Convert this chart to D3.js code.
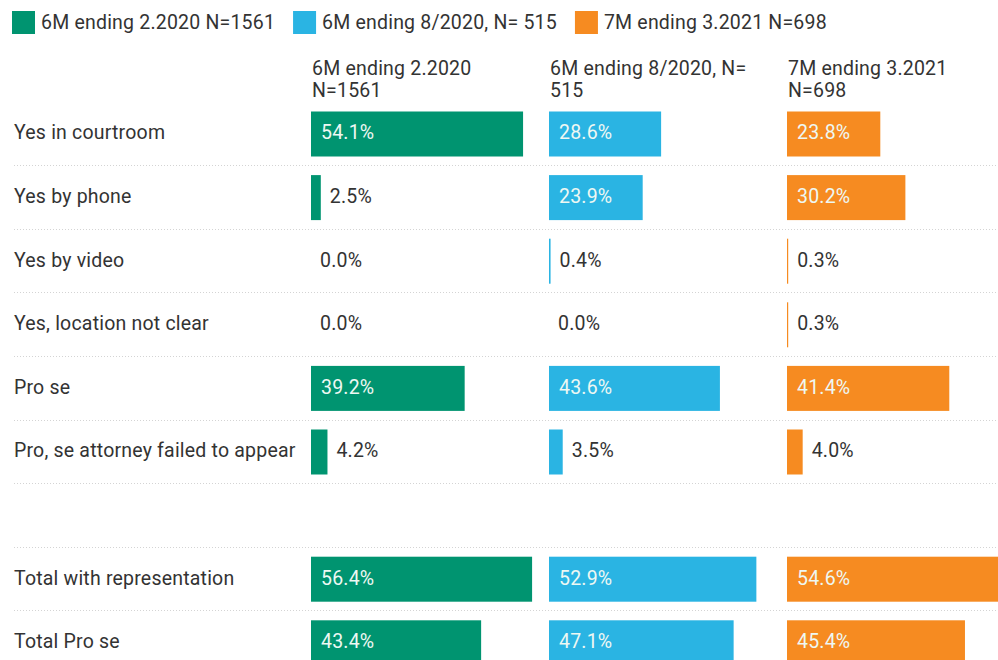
<!DOCTYPE html>
<html>
<head>
<meta charset="utf-8">
<script src="https://cdn.jsdelivr.net/npm/d3@7"></script>
<style>
  body { margin: 0; background: #fff; }
  svg { font-family: Roboto, "Noto Sans", sans-serif; }
  svg text { font-size: 19.5px; letter-spacing: 0.2px; }
</style>
</head>
<body>
<div id="chart"></div>
<script>
var rows = ["Yes in courtroom", "Yes by phone", "Yes by video", "Yes, location not clear",
            "Pro se", "Pro, se attorney failed to appear", "",
            "Total with representation", "Total Pro se"];
var seriesNames = ["6M ending 2.2020 N=1561", "6M ending 8/2020, N= 515", "7M ending 3.2021 N=698"];
var headerLines = [["6M ending 2.2020", "N=1561"], ["6M ending 8/2020, N=", "515"], ["7M ending 3.2021", "N=698"]];
var colors = ["#009470", "#2ab4e3", "#f68b21"];
var feb2020 = [54.1, 2.5, 0.0, 0.0, 39.2, 4.2, null, 56.4, 43.4];
var aug2020 = [28.6, 23.9, 0.4, 0.0, 43.6, 3.5, null, 52.9, 47.1];
var mar2021 = [23.8, 30.2, 0.3, 0.3, 41.4, 4.0, null, 54.6, 45.4];
var values = [feb2020, aug2020, mar2021];

var width = 998, height = 660;

var svg = d3.select("#chart")
    .append("svg")
      .attr("width", width)
      .attr("height", height);

// legend
var legend = svg.append("g").attr("transform", "translate(12,11)");
var lx = 0;
seriesNames.forEach(function(name, i) {
    var item = legend.append("g").attr("transform", "translate(" + lx + ",0)");
    item.append("rect")
        .attr("width", 23).attr("height", 23)
        .style("fill", colors[i]);
    var t = item.append("text")
        .attr("x", 29).attr("y", 18)
        .style("fill", "#333")
        .text(name);
    lx += 29 + t.node().getComputedTextLength() + 18;
});

var col = d3.scaleBand()
    .domain(d3.range(3))
    .range([311, 311 + 3 * 238]);

var y = d3.scaleBand()
    .domain(d3.range(rows.length))
    .range([101.5, 101.5 + rows.length * 63.6]);

var x = d3.scaleLinear()
    .domain([0, 100])
    .range([0, 392]);

// column headers
headerLines.forEach(function(lines, i) {
    svg.append("text")
        .attr("x", col(i) + 1)
        .attr("y", 75)
        .style("fill", "#333")
        .selectAll("tspan")
        .data(lines).enter()
        .append("tspan")
          .attr("x", col(i) + 1)
          .attr("dy", (d, j) => j == 0 ? 0 : 22)
          .text(d => d);
});

// separators
svg.selectAll(".sep")
    .data(d3.range(rows.length - 1))
    .enter().append("line")
      .attr("class", "sep")
      .attr("x1", 14).attr("x2", width)
      .attr("y1", d => Math.round(y(d) + y.step()) + 0.5)
      .attr("y2", d => Math.round(y(d) + y.step()) + 0.5)
      .style("stroke", "#d4d4d4")
      .style("stroke-dasharray", "1,2");

// row labels
svg.selectAll(".rowlabel")
    .data(rows)
    .enter().append("text")
      .attr("x", 14)
      .attr("y", (d, i) => y(i) + 32)
      .attr("dy", "0.3em")
      .style("fill", "#333")
      .text(d => d);

// bars
values.forEach(function(vals, s) {
    var g = svg.append("g");
    var cells = vals.map((v, i) => ({v: v, i: i})).filter(d => d.v !== null);

    g.selectAll("rect")
        .data(cells.filter(d => d.v > 0))
        .enter().append("rect")
          .attr("x", col(s))
          .attr("y", d => y(d.i) + 10)
          .attr("width", d => Math.max(1.2, x(d.v)))
          .attr("height", 45)
          .style("fill", colors[s]);

    g.selectAll("text")
        .data(cells)
        .enter().append("text")
          .attr("y", d => y(d.i) + 32)
          .attr("dy", "0.3em")
          .text(d => d.v.toFixed(1) + "%")
          .each(function(d) {
              var tw = this.getComputedTextLength();
              var inside = tw + 20 < x(d.v);
              d3.select(this)
                .attr("x", inside ? col(s) + 10 : col(s) + x(d.v) + 9)
                .style("fill", inside ? "#eef8f3" : "#333");
          });
});
</script>
</body>
</html>
